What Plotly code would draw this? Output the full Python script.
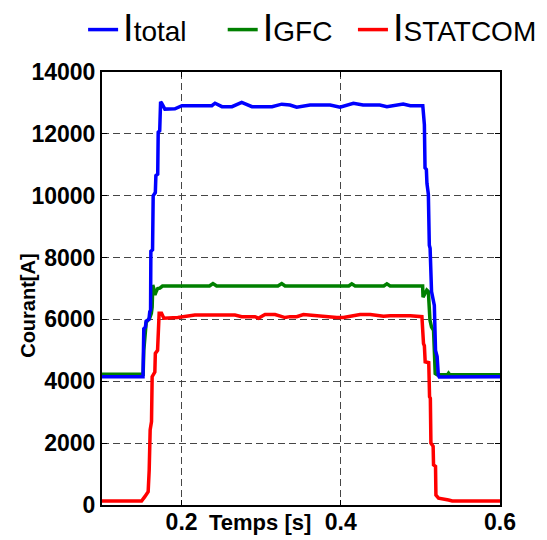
import plotly.graph_objects as go

# ---- data ----
t_total = [0.100, 0.1515, 0.1525, 0.1545, 0.1555, 0.1590, 0.1600, 0.1610, 0.1614, 0.1635,
           0.1643, 0.1670, 0.1677, 0.1700, 0.1706, 0.1725, 0.1736, 0.1748, 0.1790, 0.1916,
           0.2004, 0.2380, 0.2420, 0.2507, 0.2633, 0.2755, 0.2884, 0.3136, 0.3258, 0.3361,
           0.3446, 0.3614, 0.3866, 0.3991, 0.4158, 0.4280, 0.4490, 0.4579, 0.4784, 0.4873,
           0.5030, 0.5040, 0.5050, 0.5058, 0.5075, 0.5082, 0.5100, 0.5112, 0.5122, 0.5140,
           0.5160, 0.5175, 0.5190, 0.5210, 0.5225, 0.5237, 0.600]
i_total = [4150, 4150, 5700, 5750, 5950, 6000, 6250, 6300, 8200, 8250,
           10000, 10100, 10650, 10700, 12050, 12100, 13040, 13000, 12800, 12810,
           12910, 12910, 12990, 12880, 12880, 13020, 12880, 12880, 12960, 12930,
           12860, 12930, 12930, 12860, 12990, 12930, 12930, 12880, 12965, 12910,
           12910, 12400, 12300, 10900, 10850, 10400, 10050, 8400, 8300, 6900,
           6600, 6450, 5000, 4800, 4200, 4140, 4150]

t_gfc = [0.100, 0.1517, 0.1525, 0.1540, 0.1555, 0.1600, 0.1620, 0.1630, 0.1638, 0.1650,
         0.1665, 0.1680, 0.1700, 0.1727, 0.1760, 0.2350, 0.2394, 0.2440, 0.3210, 0.3258,
         0.3300, 0.4100, 0.4138, 0.4180, 0.4540, 0.4579, 0.4620, 0.5028, 0.5033, 0.5050,
         0.5080, 0.5100, 0.5112, 0.5120, 0.5140, 0.5165, 0.5175, 0.5186, 0.5210, 0.5340,
         0.5354, 0.5370, 0.600]
i_gfc = [4230, 4230, 5000, 5700, 5900, 6050, 6200, 6400, 7110, 7000,
         6790, 6900, 7000, 7010, 7080, 7080, 7160, 7080, 7080, 7160,
         7080, 7080, 7150, 7080, 7080, 7150, 7080, 7080, 6720, 6800,
         6950, 6900, 6300, 5980, 5750, 5650, 5000, 4250, 4210, 4210,
         4260, 4210, 4210]

t_statcom = [0.100, 0.1497, 0.1538, 0.1580, 0.1593, 0.1605, 0.1622, 0.1630, 0.1664, 0.1670,
             0.1698, 0.1705, 0.1718, 0.1748, 0.1777, 0.1953, 0.2167, 0.2670, 0.2755, 0.2922,
             0.2964, 0.3048, 0.3174, 0.3300, 0.3362, 0.3446, 0.3530, 0.3950, 0.4033, 0.4243,
             0.4370, 0.4536, 0.4620, 0.4873, 0.5019, 0.5039, 0.5050, 0.5060, 0.5105, 0.5115,
             0.5125, 0.5132, 0.5160, 0.5165, 0.5190, 0.5195, 0.5228, 0.5354, 0.5400, 0.600]
i_statcom = [130, 130, 270, 430, 1130, 2430, 2700, 4150, 4300, 4900,
             5000, 5440, 6200, 6200, 6040, 6060, 6140, 6140, 6090, 6090,
             6040, 6160, 6160, 6060, 6090, 6090, 6160, 6060, 6060, 6160,
             6160, 6100, 6120, 6120, 6090, 5220, 5150, 4630, 4600, 3500,
             3450, 2000, 1900, 1300, 1250, 320, 220, 160, 130, 130]

x_ticks = [0.2, 0.4, 0.6]
x_ticktext = ["0.2", "0.4", "0.6"]
y_ticks = [0, 2000, 4000, 6000, 8000, 10000, 12000, 14000]
y_ticktext = ["0", "2000", "4000", "6000", "8000", "10000", "12000", "14000"]

legend_total = '<span style="font-size:38px">I</span>total&nbsp;&nbsp;&nbsp;&nbsp;'
legend_gfc = '<span style="font-size:38px">I</span>GFC&nbsp;&nbsp;'
legend_statcom = '<span style="font-size:38px">I</span>STATCOM'

fig = go.Figure()
fig.add_trace(go.Scatter(x=t_gfc, y=i_gfc, mode="lines", name=legend_gfc,
                         line=dict(color="#008000", width=3.5), legendrank=2))
fig.add_trace(go.Scatter(x=t_statcom, y=i_statcom, mode="lines", name=legend_statcom,
                         line=dict(color="#ff0000", width=3.5), legendrank=3))
fig.add_trace(go.Scatter(x=t_total, y=i_total, mode="lines", name=legend_total,
                         line=dict(color="#0000ff", width=3.5), legendrank=1))

font_family = "Liberation Sans, Arial, sans-serif"

axis_common = dict(
    showgrid=True, gridcolor="rgb(70,70,70)", griddash="7px,4px", gridwidth=1,
    showline=True, linecolor="black", linewidth=2, mirror="ticks",
    ticks="inside", ticklen=5, tickcolor="black", zeroline=False,
    tickfont=dict(size=23, family=font_family, weight="bold", color="black"),
)

# the page body adds an 8px offset, so the figure is 8px smaller than the window
fig.update_layout(
    width=539, height=532,
    margin=dict(l=94, r=47, t=64, b=35, autoexpand=False),
    paper_bgcolor="white", plot_bgcolor="white",
    font=dict(family=font_family, color="black"),
    showlegend=True,
    legend=dict(orientation="h", x=-0.0475, xref="paper", xanchor="left",
                y=1.155, yref="paper", yanchor="top",
                font=dict(size=28, color="black"),
                bgcolor="rgba(0,0,0,0)", itemwidth=30, tracegroupgap=0),
    xaxis=dict(range=[0.1, 0.6], tickvals=x_ticks, ticktext=x_ticktext,
               ticklabelstandoff=-5, **axis_common),
    yaxis=dict(range=[0, 14000], tickvals=y_ticks, ticktext=y_ticktext, **axis_common),
    annotations=[
        dict(text="<b>Temps [s]</b>", x=0.298, xref="x", y=-0.040, yref="paper",
             xanchor="center", yanchor="middle", showarrow=False,
             font=dict(size=22, family=font_family)),
        dict(text="<b>Courant[A]</b>", x=-0.186, xref="paper", y=0.46, yref="paper",
             xanchor="center", yanchor="middle", showarrow=False, textangle=-90,
             font=dict(size=20, family=font_family)),
    ],
)

fig.write_html("out.html")
